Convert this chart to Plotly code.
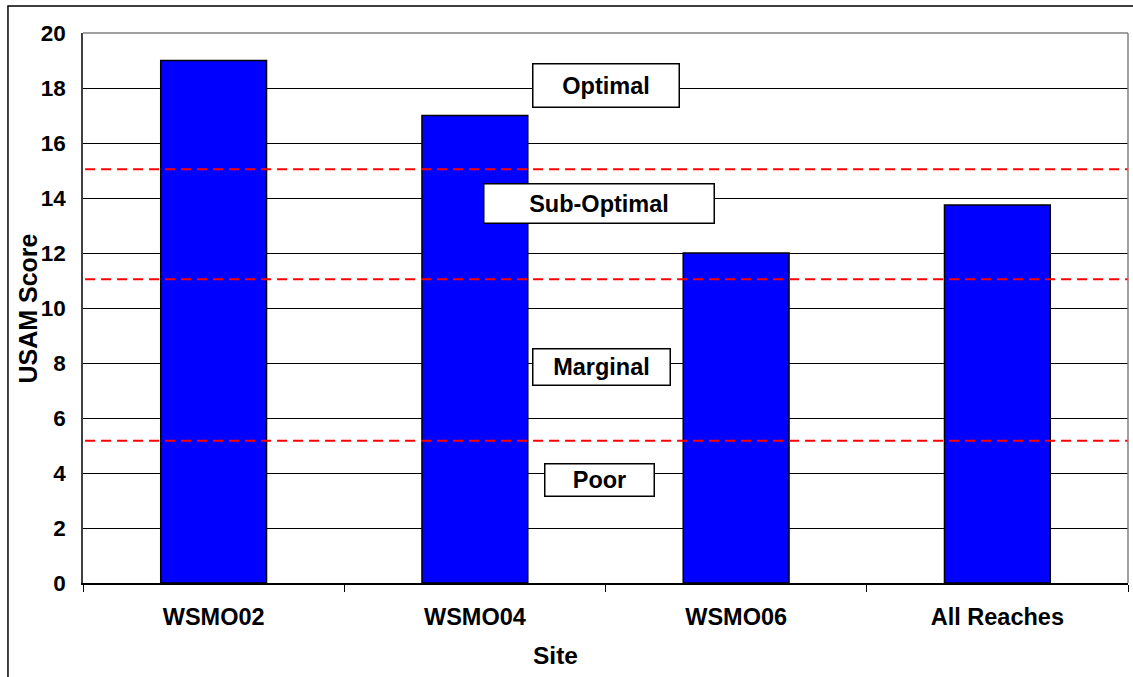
import plotly.graph_objects as go

sites = ["WSMO02", "WSMO04", "WSMO06", "All Reaches"]
scores = [19, 17, 12, 13.75]
thresholds = [15.05, 11.05, 5.17]
class_labels = ["Optimal", "Sub-Optimal", "Marginal", "Poor"]
class_y = [18.09, 13.8, 7.85, 3.75]
y_ticks = list(range(0, 21, 2))

FONT = "Arial, 'Liberation Sans', sans-serif"

fig = go.Figure()
fig.add_trace(go.Bar(
    x=sites, y=scores, width=0.405,
    marker=dict(color="#0000FF", line=dict(color="black", width=1.5)),
    showlegend=False,
))

shapes = []
for t in thresholds:
    shapes.append(dict(type="line", xref="paper", yref="y", x0=0.002, x1=1, y0=t, y1=t,
                       line=dict(color="#FF0000", width=2, dash="10px,6px"), layer="above"))
# plot border (top/right gray)
shapes.append(dict(type="line", xref="paper", yref="paper", x0=0, x1=1, y0=1, y1=1,
                   line=dict(color="#808080", width=1.5), layer="above"))
shapes.append(dict(type="line", xref="paper", yref="paper", x0=1, x1=1, y0=0, y1=1,
                   line=dict(color="#808080", width=1.5), layer="above"))
# outer chart frame
shapes.append(dict(type="rect", xref="paper", yref="paper", x0=-0.0718, x1=1.02, y0=-0.2, y1=1.049,
                   line=dict(color="black", width=1.5), fillcolor="rgba(0,0,0,0)", layer="below"))

box_specs = [(0.5005, 141, 38), (0.4938, 225, 34), (0.4962, 132, 31), (0.4943, 104, 27)]
annotations = []
for lab, yv, (xp, w, h) in zip(class_labels, class_y, box_specs):
    annotations.append(dict(
        x=xp, xref="paper", y=yv, yref="y", text="<b>%s</b>" % lab, showarrow=False,
        font=dict(family=FONT, size=23.5, color="black"),
        bgcolor="white", bordercolor="black", borderwidth=1.5, borderpad=2,
        width=w, height=h, xanchor="center", yanchor="middle",
    ))
annotations.append(dict(x=-0.0526, xref="paper", y=0.499, yref="paper", text="<b>USAM Score</b>",
                        textangle=-90, showarrow=False, xanchor="center", yanchor="middle",
                        font=dict(family=FONT, size=25, color="black")))
annotations.append(dict(x=0.4526, xref="paper", y=-0.131, yref="paper", text="<b>Site</b>",
                        showarrow=False, xanchor="center", yanchor="middle",
                        font=dict(family=FONT, size=24.5, color="black")))

fig.update_layout(
    width=1133, height=677,
    margin=dict(l=83, r=5, t=33, b=94),
    paper_bgcolor="white", plot_bgcolor="white",
    shapes=shapes, annotations=annotations,
    font=dict(family=FONT, color="black"),
    bargap=0.6,
)
fig.update_yaxes(
    range=[0, 20], tickvals=y_ticks, ticktext=["<b>%d</b>" % v for v in y_ticks],
    showgrid=True, gridcolor="black", gridwidth=1,
    showline=True, linecolor="#404040", linewidth=1.5,
    ticks="", ticklabelstandoff=11, zeroline=False,
    tickfont=dict(family=FONT, size=22.5, color="black"),
)
fig.update_xaxes(
    tickvals=sites, ticktext=["<b>%s</b>" % s for s in sites],
    showline=True, linecolor="black", linewidth=1.5,
    ticks="outside", tickson="boundaries", ticklen=7, tickcolor="black", tickwidth=1,
    ticklabelstandoff=12,
    tickfont=dict(family=FONT, size=23.5, color="black"),
)

fig.write_html("out.html", config={"displayModeBar": False},
               post_script="document.body.style.margin='0';document.body.style.overflow='hidden';")
